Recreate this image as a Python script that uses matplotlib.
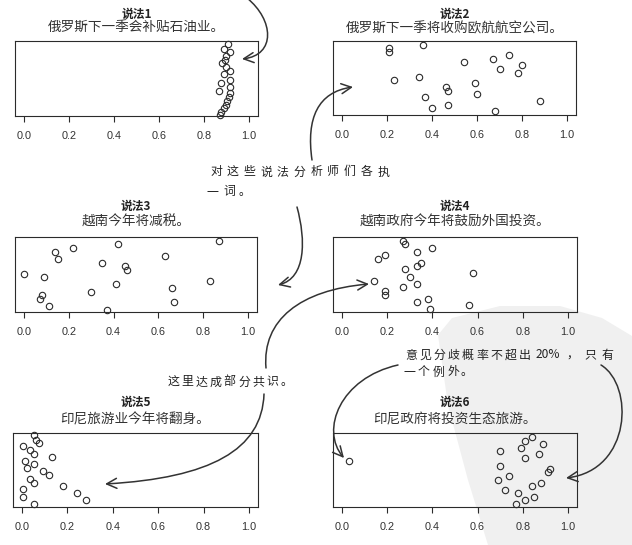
import matplotlib
matplotlib.use("Agg")
import matplotlib.pyplot as plt
from matplotlib.path import Path
from matplotlib.patches import FancyArrowPatch, Polygon

# ---------------- data ----------------
claim_titles = ["说法1", "说法2", "说法3", "说法4", "说法5", "说法6"]
claim_texts = ["俄罗斯下一季会补贴石油业。", "俄罗斯下一季将收购欧航航空公司。",
               "越南今年将减税。", "越南政府今年将鼓励外国投资。",
               "印尼旅游业今年将翻身。", "印尼政府将投资生态旅游。"]

claim1_x = [0.907, 0.888, 0.914, 0.900, 0.892, 0.880, 0.900, 0.917, 0.888, 0.917,
            0.877, 0.917, 0.865, 0.914, 0.910, 0.904, 0.900, 0.888, 0.874, 0.870]
claim1_y = [0.955, 0.900, 0.850, 0.800, 0.750, 0.705, 0.650, 0.600, 0.560, 0.480,
            0.440, 0.390, 0.335, 0.310, 0.250, 0.205, 0.150, 0.107, 0.060, 0.020]

claim2_x = [0.21, 0.21, 0.36, 0.23, 0.34, 0.54, 0.67, 0.74, 0.70, 0.80,
            0.78, 0.59, 0.46, 0.47, 0.60, 0.37, 0.40, 0.47, 0.68, 0.88]
claim2_y = [0.90, 0.85, 0.95, 0.47, 0.52, 0.71, 0.76, 0.81, 0.62, 0.67,
            0.57, 0.43, 0.38, 0.33, 0.29, 0.24, 0.10, 0.14, 0.05, 0.19]

claim3_x = [0.00, 0.09, 0.14, 0.15, 0.22, 0.42, 0.35, 0.45, 0.46, 0.63,
            0.87, 0.83, 0.41, 0.30, 0.66, 0.67, 0.08, 0.07, 0.11, 0.37]
claim3_y = [0.51, 0.47, 0.80, 0.71, 0.85, 0.90, 0.66, 0.61, 0.56, 0.75,
            0.95, 0.42, 0.37, 0.27, 0.32, 0.13, 0.23, 0.18, 0.08, 0.03]

claim4_x = [0.27, 0.28, 0.40, 0.33, 0.19, 0.16, 0.35, 0.33, 0.28, 0.30,
            0.58, 0.14, 0.33, 0.27, 0.19, 0.19, 0.38, 0.33, 0.56, 0.39]
claim4_y = [0.95, 0.90, 0.85, 0.80, 0.76, 0.71, 0.66, 0.61, 0.57, 0.47,
            0.52, 0.42, 0.37, 0.33, 0.28, 0.23, 0.18, 0.14, 0.09, 0.04]

claim5_x = [0.052, 0.062, 0.073, 0.003, 0.033, 0.052, 0.130, 0.012, 0.052, 0.022,
            0.092, 0.120, 0.033, 0.052, 0.180, 0.003, 0.240, 0.003, 0.280, 0.052]
claim5_y = [0.97, 0.91, 0.86, 0.82, 0.77, 0.72, 0.67, 0.62, 0.58, 0.53,
            0.48, 0.43, 0.38, 0.33, 0.29, 0.24, 0.19, 0.14, 0.09, 0.046]

claim6_x = [0.84, 0.81, 0.89, 0.79, 0.70, 0.87, 0.81, 0.70, 0.92, 0.91,
            0.74, 0.69, 0.88, 0.84, 0.72, 0.78, 0.85, 0.81, 0.77, 0.03]
claim6_y = [0.945, 0.895, 0.85, 0.80, 0.755, 0.71, 0.66, 0.56, 0.51, 0.47,
            0.42, 0.37, 0.33, 0.28, 0.23, 0.19, 0.14, 0.09, 0.045, 0.62]

tick_values = [0.0, 0.2, 0.4, 0.6, 0.8, 1.0]
tick_labels = ["0.0", "0.2", "0.4", "0.6", "0.8", "1.0"]

# ---------------- layout ----------------
W, H = 632, 545
fig = plt.figure(figsize=(W / 100, H / 100), dpi=100)
fig.patch.set_facecolor("white")
INK = "#2b2b2b"

# background watermark (light gray seal) behind everything
bg = fig.add_axes([0, 0, 1, 1], zorder=-5)
bg.set_xlim(0, W); bg.set_ylim(H, 0); bg.axis("off")
bg.add_patch(Polygon([(438, 335), (452, 318), (500, 306), (560, 306), (602, 318),
                      (632, 336), (632, 545), (488, 545), (468, 480), (448, 405)],
                     closed=True, facecolor="#f0f0f0", edgecolor="none"))

boxes = [(15, 41, 258, 116), (333, 41, 576, 115),
         (15, 237, 257, 312), (333, 237, 577, 312),
         (13, 433, 258, 507), (333, 433, 577, 507)]
title_y = [(14, 28), (14, 28), (206, 222), (206, 222), (402, 419), (402, 419)]
xs = [claim1_x, claim2_x, claim3_x, claim4_x, claim5_x, claim6_x]
ys = [claim1_y, claim2_y, claim3_y, claim4_y, claim5_y, claim6_y]

cjk = ["Noto Sans CJK SC", "DejaVu Sans"]

for i, (x0, y0, x1, y1) in enumerate(boxes):
    ax = fig.add_axes([x0 / W, 1 - y1 / H, (x1 - x0) / W, (y1 - y0) / H])
    ax.set_facecolor("none")
    ax.plot(xs[i], ys[i], "o", ms=4.6, mfc="none", mec=INK, mew=0.8, clip_on=False)
    ax.set_xlim(-0.04, 1.04)
    ax.set_ylim(0, 1)
    ax.set_yticks([])
    ax.set_xticks(tick_values)
    ax.set_xticklabels(tick_labels, fontfamily="Liberation Sans", fontsize=7.8, color="#333333")
    ax.tick_params(axis="x", length=4, width=0.8, color=INK, pad=7)
    for s in ax.spines.values():
        s.set_color(INK); s.set_linewidth(0.8)
    cx = (x0 + x1) / 2 / W
    fig.text(cx, 1 - title_y[i][0] / H, claim_titles[i], ha="center", va="center",
             family=cjk, fontweight="bold", fontsize=8.5, color="#222222")
    fig.text(cx, 1 - title_y[i][1] / H, claim_texts[i], ha="center", va="center",
             family=cjk, fontsize=9.8, color="#333333")

# ---------------- annotations overlay ----------------
ov = fig.add_axes([0, 0, 1, 1], zorder=10)
ov.set_xlim(0, W); ov.set_ylim(H, 0); ov.axis("off"); ov.set_facecolor("none")


def curve(p0, p1, p2, p3):
    path = Path([p0, p1, p2, p3], [Path.MOVETO, Path.CURVE4, Path.CURVE4, Path.CURVE4])
    ov.add_patch(FancyArrowPatch(path=path, arrowstyle="->,head_length=0.6,head_width=0.3",
                                 mutation_scale=12, lw=1.1, color="#333333"))


curve((247, -2), (274, 20), (276, 55), (242, 59))
curve((312, 160), (306, 118), (318, 92), (353, 87))
curve((297, 207), (306, 240), (306, 278), (278, 285))
curve((266, 368), (262, 320), (300, 290), (369, 284))
curve((264, 394), (262, 450), (210, 478), (105, 484))
curve((398, 365), (340, 378), (320, 430), (344, 458))
curve((601, 365), (634, 385), (632, 470), (566, 478))


def hand(tokens, centers, y, size=8.6):
    for t, c in zip(tokens, centers):
        ov.text(c, y, t, ha="center", va="center", family=cjk, fontsize=size, color="#222222")


line1 = list("对这些说法分析师们各执")
hand(line1, [216 + 16.7 * k for k in range(len(line1))], 172)
hand(list("一词。"), [212, 229, 244], 192)
line3 = list("这里达成部分共识。")
hand(line3, [173 + 14.2 * k for k in range(len(line3))], 382)
line4 = list("意见分歧概率不超出")
hand(line4, [411 + 14.2 * k for k in range(len(line4))], 355)
hand(["20%", "，", "只", "有"], [548, 572, 590, 607], 355)
hand(list("一个例外。"), [409, 424, 439, 453, 466], 372)

fig.savefig("out.png", dpi=100)
